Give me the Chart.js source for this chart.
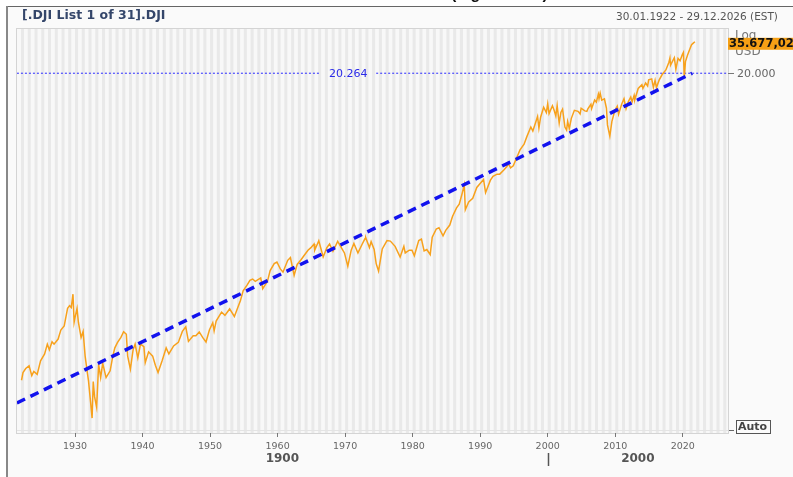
<!DOCTYPE html>
<html>
<head>
<meta charset="utf-8">
<title>.DJI</title>
<script src="https://cdn.jsdelivr.net/npm/chart.js@4/dist/chart.umd.min.js"></script>
<style>
  body { margin: 0; background: #fff; }
  #wrap { width: 793px; height: 477px; }
</style>
</head>
<body>
<div id="wrap"><canvas id="djiChart" width="793" height="477"></canvas></div>
<script>
// Dow Jones closes (year, value)
const djiYears = [
  1922.08, 1922.3, 1922.7, 1923.2, 1923.6, 1923.9, 1924.4, 1924.9, 1925.5, 1925.9,
  1926.2, 1926.6, 1926.9, 1927.5, 1927.9, 1928.4, 1928.9, 1929.2, 1929.45, 1929.7,
  1929.87, 1930.0, 1930.3, 1930.5, 1930.9, 1931.2, 1931.5, 1931.8, 1932.0, 1932.3,
  1932.53, 1932.7, 1932.9, 1933.2, 1933.5, 1933.8, 1934.1, 1934.6, 1935.2, 1935.6,
  1935.9, 1936.3, 1936.8, 1937.2, 1937.6, 1937.8, 1938.2, 1938.6, 1938.9, 1939.3,
  1939.7, 1940.2, 1940.4, 1940.9, 1941.5, 1941.9, 1942.3, 1942.9, 1943.5, 1943.9,
  1944.6, 1945.3, 1945.9, 1946.4, 1946.8, 1947.5, 1947.9, 1948.4, 1948.9, 1949.4,
  1949.9, 1950.4, 1950.6, 1950.9, 1951.7, 1952.2, 1952.9, 1953.6, 1953.9, 1954.5,
  1954.9, 1955.5, 1955.9, 1956.3, 1956.7, 1957.5, 1957.8, 1958.5, 1958.9, 1959.5,
  1959.9, 1960.4, 1960.8, 1961.5, 1961.9, 1962.45, 1962.9, 1963.5, 1963.9, 1964.5,
  1964.9, 1965.4, 1965.5, 1966.1, 1966.75, 1967.3, 1967.7, 1968.2, 1968.9, 1969.5,
  1969.9, 1970.4, 1970.9, 1971.3, 1971.9, 1972.5, 1972.95, 1973.05, 1973.6, 1973.85,
  1974.3, 1974.6, 1974.95, 1975.5, 1976.2, 1976.7, 1977.4, 1978.15, 1978.7, 1978.9,
  1979.5, 1979.9, 1980.25, 1980.9, 1981.3, 1981.7, 1982.1, 1982.6, 1982.9, 1983.5,
  1983.9, 1984.5, 1984.9, 1985.5, 1985.9, 1986.5, 1986.9, 1987.3, 1987.65, 1987.8,
  1988.3, 1988.9, 1989.5, 1989.9, 1990.5, 1990.8, 1991.5, 1991.9, 1992.5, 1992.9,
  1993.5, 1993.9, 1994.2, 1994.5, 1994.9, 1995.5, 1995.9, 1996.5, 1996.9, 1997.5,
  1997.8, 1998.5, 1998.7, 1998.95, 1999.4, 1999.8, 2000.0, 2000.2, 2000.7, 2000.95,
  2001.2, 2001.4, 2001.7, 2001.95, 2002.2, 2002.55, 2002.8, 2002.95, 2003.2, 2003.5,
  2003.95, 2004.5, 2004.8, 2004.95, 2005.5, 2005.8, 2005.95, 2006.4, 2006.5, 2006.95,
  2007.2, 2007.5, 2007.6, 2007.77, 2008.0, 2008.4, 2008.7, 2008.85, 2009.2, 2009.5,
  2009.95, 2010.3, 2010.5, 2010.95, 2011.3, 2011.6, 2011.95, 2012.3, 2012.5, 2012.8,
  2012.9, 2013.4, 2013.95, 2014.1, 2014.5, 2014.8, 2014.95, 2015.4, 2015.65, 2015.9,
  2016.1, 2016.5, 2016.95, 2017.5, 2017.95, 2018.1, 2018.2, 2018.75, 2018.98, 2019.3,
  2019.6, 2019.95, 2020.1, 2020.22, 2020.4, 2020.7, 2020.95, 2021.3, 2021.6, 2021.8
];
const djiValues = [
  81, 93, 100, 105, 88, 95, 90, 115, 130, 155,
  140, 162, 155, 170, 200, 215, 295, 310, 300, 381,
  230, 250, 294, 230, 175, 195, 125, 95, 80, 55,
  41, 79, 60, 50, 108, 85, 110, 85, 96, 125,
  145, 160, 175, 194, 185, 125, 99, 140, 155, 121,
  155, 148, 111, 135, 125, 106, 93, 115, 145, 130,
  150, 160, 195, 212, 163, 180, 180, 193, 175, 161,
  200, 228, 197, 235, 276, 260, 292, 255, 280, 340,
  404, 450, 488, 500, 480, 510, 420, 480, 583, 660,
  679, 600, 566, 700, 735, 535, 650, 710, 760, 840,
  875, 940, 840, 995, 744, 880, 940, 825, 985, 870,
  800, 631, 840, 950, 800, 930, 1036, 1051, 880, 980,
  850, 660, 577, 860, 1000, 990, 900, 742, 900, 800,
  840, 840, 760, 1000, 1024, 830, 850, 777, 1060, 1230,
  1260, 1090, 1200, 1320, 1540, 1800, 1920, 2300, 2722, 1738,
  2000, 2140, 2600, 2750, 2999, 2365, 2950, 3170, 3300, 3300,
  3550, 3750, 3978, 3700, 3830, 4550, 5100, 5650, 6450, 7700,
  7160, 9300, 7539, 9180, 11000, 10000, 11700, 9800, 11300, 10400,
  9400, 11300, 8235, 10000, 10600, 7700, 7286, 8500, 7500, 9000,
  10400, 10200, 9750, 10800, 10300, 10200, 10700, 11600, 10700, 12500,
  12050, 13900, 12800, 14165, 12500, 12800, 10800, 8000, 6547, 8500,
  10400, 11200, 9700, 11600, 12800, 10700, 12200, 13200, 12100, 13600,
  12600, 15400, 16500, 15400, 17000, 16100, 18000, 18300, 15660, 17800,
  15660, 17900, 19800, 21500, 24700, 26600, 23500, 26800, 21800, 26500,
  25400, 28500, 29500, 18592, 25000, 28000, 30400, 33800, 35000, 35677
];

// regression channel line (start / end)
const trendYears = [1921.4, 2021.4];
const trendValues = [53.8, 20264];

// dotted level line, broken where its label sits
const levelYears = [1921.4, 1966.2, 1966.3, 1974.6, 2026.7];
const levelValues = [20264, 20264, null, 20264, 20264];

const xTickYears = [1930, 1940, 1950, 1960, 1970, 1980, 1990, 2000, 2010, 2020];
const yTickValues = [20000];

const xMin = 1921.41;
const xMax = 2026.7;

const pts = (xs, ys) => xs.map((x, i) => ({ x: x, y: ys[i] }));

Chart.defaults.font.family = "'DejaVu Sans', Verdana, sans-serif";

// background, frame, year stripes and all the loose texts
const decor = {
  id: "decor",
  beforeDraw(chart) {
    const ctx = chart.ctx;
    const { left, top, right, bottom } = chart.chartArea;
    const xs = chart.scales.x;
    ctx.save();
    ctx.fillStyle = "#fff";
    ctx.fillRect(0, 0, chart.width, chart.height);
    ctx.fillStyle = "#fafafa";
    ctx.fillRect(8, 7, chart.width - 8, chart.height - 7);

    // cut off heading at the very top
    ctx.fillStyle = "#111";
    ctx.font = "bold 16px 'Liberation Sans', Arial";
    ctx.textBaseline = "alphabetic";
    ctx.textAlign = "left";
    ctx.fillText("(logarithmic)", 451, -1);

    ctx.fillStyle = "#666";
    ctx.fillRect(7, 6, chart.width - 7, 1);
    ctx.fillStyle = "#888";
    ctx.fillRect(6, 6, 2, chart.height - 6);

    // plot area with one grey band per year
    ctx.fillStyle = "#f8f8f8";
    ctx.fillRect(left, top, right - left, bottom - top);
    ctx.fillStyle = "#e9e9e9";
    for (let yr = 1922; yr < 2027; yr++) {
      const a = Math.max(xs.getPixelForValue(yr), left);
      const b = Math.min(xs.getPixelForValue(yr + 0.45), right);
      if (b > a) ctx.fillRect(a, top, b - a, bottom - top);
    }
    ctx.strokeStyle = "#d4d4d4";
    ctx.lineWidth = 1;
    ctx.strokeRect(left - 0.5, top - 0.5, right - left + 1, bottom - top + 1);
    ctx.strokeStyle = "#e4e4e4";
    ctx.beginPath();
    ctx.moveTo(left, bottom - 2.5);
    ctx.lineTo(right, bottom - 2.5);
    ctx.stroke();
    ctx.restore();
  },
  afterDraw(chart) {
    const ctx = chart.ctx;
    const { left, right, bottom } = chart.chartArea;
    const xs = chart.scales.x;
    const ys = chart.scales.y;
    ctx.save();
    ctx.textBaseline = "middle";

    // title and date range
    ctx.textAlign = "left";
    ctx.fillStyle = "#34466a";
    ctx.font = "bold 12.5px 'DejaVu Sans'";
    ctx.fillText("[.DJI List 1 of 31].DJI", 22, 16);
    ctx.fillStyle = "#555";
    ctx.font = "10.5px 'DejaVu Sans'";
    ctx.fillText("30.01.1922 - 29.12.2026 (EST)", 616, 17);

    // label of the level line
    const ly = ys.getPixelForValue(levelValues[0]);
    ctx.textAlign = "center";
    ctx.fillStyle = "#2a2ae8";
    ctx.font = "11px 'DejaVu Sans'";
    ctx.fillText("20.264", xs.getPixelForValue(1970.45), ly + 1);

    // currency / scale type and last price
    ctx.textAlign = "left";
    ctx.fillStyle = "#777";
    ctx.font = "12px 'DejaVu Sans'";
    ctx.fillText("Log", 735, 36);
    ctx.fillText("USD", 735, 52);
    const py = ys.getPixelForValue(djiValues[djiValues.length - 1]) + 2;
    ctx.fillStyle = "#f5a015";
    ctx.fillRect(728, py - 6, 70, 12);
    ctx.fillStyle = "#111";
    ctx.font = "bold 11.5px 'DejaVu Sans'";
    ctx.fillText("35.677,02", 729, py);

    // "Auto" button
    ctx.fillStyle = "#666";
    ctx.fillRect(729, bottom - 3, 5, 1);
    ctx.fillStyle = "#fbfbfb";
    ctx.fillRect(736, bottom - 13, 35, 13);
    ctx.strokeStyle = "#555";
    ctx.lineWidth = 1;
    ctx.strokeRect(736.5, bottom - 12.5, 34, 13);
    ctx.fillStyle = "#444";
    ctx.font = "bold 11px 'DejaVu Sans'";
    ctx.fillText("Auto", 738, bottom - 5.5);

    // century row
    ctx.textAlign = "center";
    ctx.fillStyle = "#555";
    ctx.font = "bold 12px 'DejaVu Sans'";
    ctx.fillText("1900", xs.getPixelForValue((xMin + 2000) / 2), 459);
    ctx.fillText("2000", xs.getPixelForValue((2000 + xMax) / 2), 459);
    const sx = Math.round(xs.getPixelForValue(2000)) + 0.5;
    ctx.strokeStyle = "#555";
    ctx.lineWidth = 1.5;
    ctx.beginPath();
    ctx.moveTo(sx, 453);
    ctx.lineTo(sx, 466);
    ctx.stroke();
    ctx.restore();
  }
};

const ctx = document.getElementById("djiChart").getContext("2d");
const djiChart = new Chart(ctx, {
  type: "line",
  data: {
    datasets: [
      {
        label: ".DJI",
        data: pts(djiYears, djiValues),
        borderColor: "#f7a11c",
        borderWidth: 1.5,
        pointRadius: 0,
        tension: 0,
        order: 1
      },
      {
        label: "Trend",
        data: pts(trendYears, trendValues),
        borderColor: "#1212ee",
        borderWidth: 3.5,
        borderDash: [9, 6],
        pointRadius: 0,
        order: 0
      },
      {
        label: "20.264",
        data: pts(levelYears, levelValues),
        borderColor: "#2a2aff",
        borderWidth: 1,
        borderDash: [2, 2],
        pointRadius: 0,
        spanGaps: false,
        order: 2
      }
    ]
  },
  options: {
    responsive: false,
    animation: false,
    layout: { padding: { left: 17, top: 29, right: 0, bottom: 0 } },
    plugins: {
      legend: { display: false },
      tooltip: { enabled: false }
    },
    scales: {
      x: {
        type: "linear",
        min: xMin,
        max: xMax,
        afterBuildTicks: (scale) => {
          scale.ticks = xTickYears.map((v) => ({ value: v }));
        },
        afterFit: (scale) => {
          scale.height = 44;
        },
        grid: { drawOnChartArea: false, tickLength: 4, tickColor: "#777" },
        border: { display: false },
        ticks: {
          color: "#666",
          font: { size: 9.5 },
          padding: 4,
          maxRotation: 0,
          autoSkip: false,
          callback: (v) => String(v)
        }
      },
      y: {
        type: "logarithmic",
        position: "right",
        min: 31.36,
        max: 44900,
        afterBuildTicks: (scale) => {
          scale.ticks = yTickValues.map((v) => ({ value: v }));
        },
        afterFit: (scale) => {
          scale.width = 65;
        },
        grid: { drawOnChartArea: false, tickLength: 6, tickColor: "#777" },
        border: { display: false },
        ticks: {
          color: "#666",
          font: { size: 11 },
          padding: 3,
          callback: (v) => v.toLocaleString("de-DE")
        }
      }
    }
  },
  plugins: [decor]
});
</script>
</body>
</html>
